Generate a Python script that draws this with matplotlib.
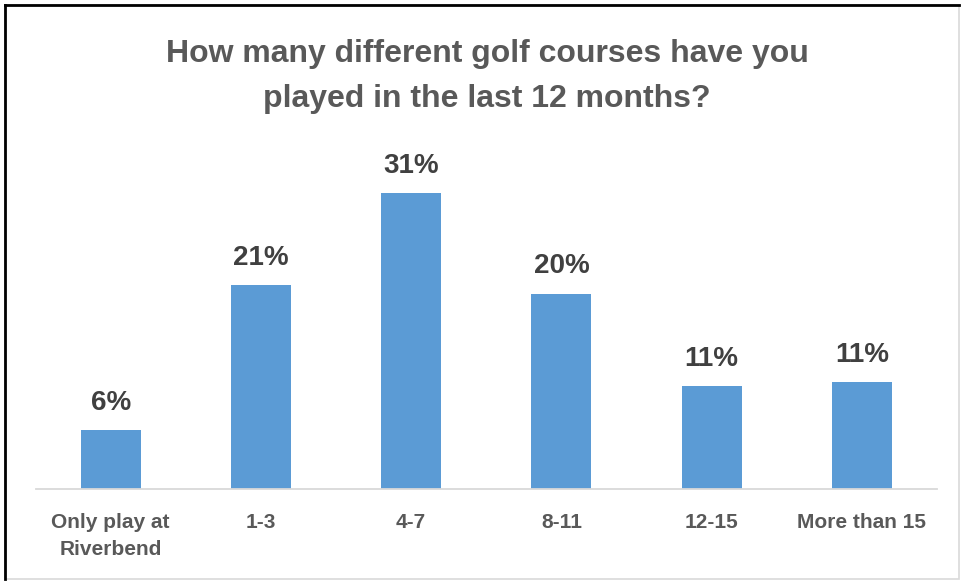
import matplotlib.pyplot as plt
from matplotlib.patches import Rectangle
import numpy as np

categories = ['Only play at\nRiverbend', '1-3', '4-7', '8-11', '12-15', 'More than 15']
pct = [6.2, 21.4, 31.0, 20.5, 10.8, 11.2]

plt.rcParams['font.family'] = ['Liberation Sans', 'DejaVu Sans']

fig = plt.figure(figsize=(9.61, 5.81), dpi=100)
ax = fig.add_axes([0.037, 0.158, 0.938, 0.575])

x = np.arange(len(categories))
ax.bar(x, pct, width=0.4, color='#5b9bd5')
for xi, v in zip(x, pct):
    ax.text(xi, v + 1.5, '%d%%' % round(v), ha='center', va='bottom',
            fontsize=20, fontweight='bold', color='#404040')

ax.set_xlim(-0.5, len(categories) - 0.5)
ax.set_ylim(0, 35)
ax.set_yticks([])
ax.set_xticks(x)
ax.set_xticklabels(categories, fontsize=15, fontweight='bold', color='#595959',
                   linespacing=1.55)
ax.tick_params(axis='x', length=0, pad=17)
for s in ['top', 'right', 'left']:
    ax.spines[s].set_visible(False)
ax.spines['bottom'].set_color('#d9d9d9')
ax.spines['bottom'].set_linewidth(1.3)

fig.text(0.507, 0.869, 'How many different golf courses have you\nplayed in the last 12 months?',
         ha='center', va='center', fontsize=23, fontweight='bold', color='#595959',
         linespacing=1.65)

# frame around the chart area
fig.patches.append(Rectangle((0.005, 0.004), 0.993, 0.988, transform=fig.transFigure,
                             fill=False, edgecolor='#d9d9d9', linewidth=1.2))
fig.lines.append(plt.Line2D([0.005, 0.005], [0.004, 0.992], transform=fig.transFigure,
                            color='black', linewidth=2))
fig.lines.append(plt.Line2D([0.005, 0.998], [0.992, 0.992], transform=fig.transFigure,
                            color='black', linewidth=2))

fig.savefig('out.png', dpi=100)
